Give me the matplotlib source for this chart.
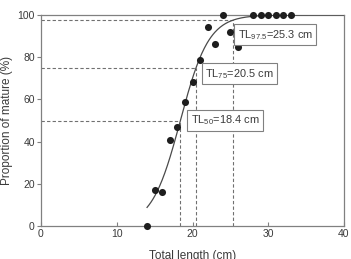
import numpy as np
import matplotlib
matplotlib.use("Agg")
import matplotlib.pyplot as plt

plt.rcParams['font.family'] = ['Liberation Sans', 'DejaVu Sans']
plt.rcParams['mathtext.fontset'] = 'custom'
plt.rcParams['mathtext.rm'] = 'Liberation Sans'
plt.rcParams['mathtext.it'] = 'Liberation Sans'

# Observed data
length_cm = [14, 15, 16, 17, 18, 19, 20, 21, 22, 23, 24, 25, 26, 28, 29, 30, 31, 32, 33]
pct_mature = [0, 16.9, 16.0, 40.8, 46.8, 58.9, 68.4, 78.7, 94.2, 86.4, 100, 91.8, 84.7,
              100, 100, 100, 100, 100, 100]

# Fitted logistic parameters
L50 = 18.4
L97_5 = 25.3
slope = np.log(39.0) / (L97_5 - L50)

# Reference markers: (label subscript, length, proportion)
ref_subs = ["50", "75", "97.5"]
ref_len = [18.4, 20.5, 25.3]
ref_pct = [50, 75, 97.5]
box_x = [19.3, 21.2, 25.5]
box_y = [50, 72.2, 90.7]

x_ticks = [0, 10, 20, 30, 40]
y_ticks = [0, 20, 40, 60, 80, 100]

W, H = 351, 259
fig = plt.figure(figsize=(W / 100, H / 100), dpi=100)
ax = fig.add_axes([41 / W, 1 - 226 / H, (344 - 41) / W, (226 - 15) / H])

txt_c = '#3a3a3a'
spine_c = '#808080'

xs = np.linspace(14, 40, 300)
ys = 100 / (1 + np.exp(-slope * (xs - L50)))
ax.plot(xs, ys, color='#4a4a4a', lw=0.9, zorder=3)

for L, P in zip(ref_len, ref_pct):
    ax.plot([0, L], [P, P], ls=(0, (3, 2)), color='#707070', lw=0.8, zorder=2)
    ax.plot([L, L], [0, P], ls=(0, (3, 2)), color='#707070', lw=0.8, zorder=2)

ax.scatter(length_cm, pct_mature, s=26, color='#1e1e1e', zorder=4, clip_on=False, linewidths=0)

pad_px = 3.5
for sub, L, bx, by in zip(ref_subs, ref_len, box_x, box_y):
    ax.text(bx + pad_px / 7.575, by, "TL$_{" + sub + "}$=" + f"{L} cm",
            ha='left', va='center', fontsize=7.9, color=txt_c, zorder=5,
            bbox=dict(boxstyle='square,pad=0.3', fc='white', ec='#808080', lw=0.8))

ax.set_xlim(0, 40)
ax.set_ylim(0, 100)
ax.set_xticks(x_ticks)
ax.set_yticks(y_ticks)
ax.tick_params(axis='x', direction='in', length=3, colors=spine_c, labelcolor=txt_c, labelsize=7.5, pad=2)
ax.tick_params(axis='y', direction='out', length=3, colors=spine_c, labelcolor=txt_c, labelsize=7.5, pad=1.5)
for s in ax.spines.values():
    s.set_color(spine_c)
    s.set_linewidth(0.9)

ax.set_xlabel("Total length (cm)", fontsize=8.5, color=txt_c, labelpad=8)
ax.set_ylabel("Proportion of mature (%)", fontsize=8.5, color=txt_c, labelpad=3)

fig.savefig("out.png", dpi=100)
